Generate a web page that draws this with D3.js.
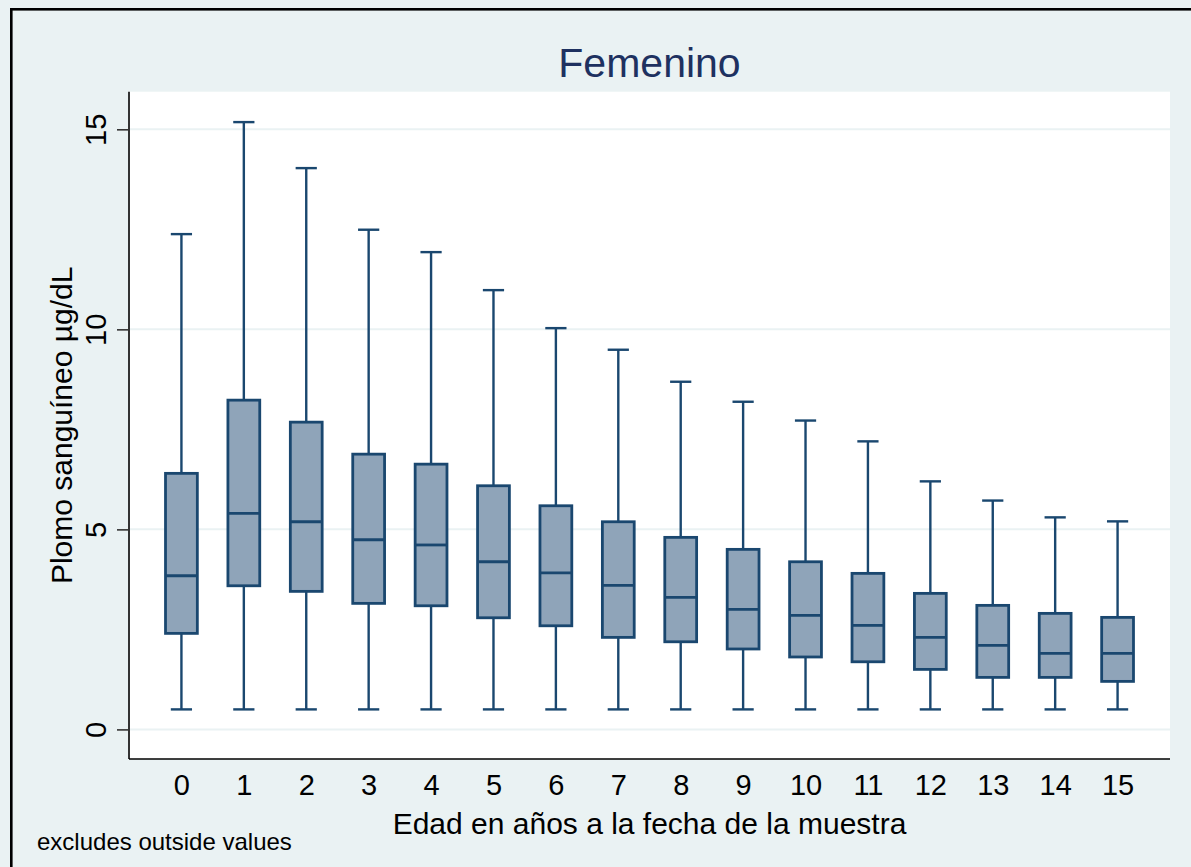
<!DOCTYPE html>
<html>
<head>
<meta charset="utf-8">
<script src="https://cdn.jsdelivr.net/npm/d3@7"></script>
<style>
  body { margin: 0; background: #eaf2f3; }
  svg { display: block; font-family: "Liberation Sans", Arial, sans-serif; }
</style>
</head>
<body>
<svg id="chart"></svg>
<script>
// --------------------
//  data
// --------------------
const ages = ["0","1","2","3","4","5","6","7","8","9","10","11","12","13","14","15"];
const lowerWhisker = [0.5,0.5,0.5,0.5,0.5,0.5,0.5,0.5,0.5,0.5,0.5,0.5,0.5,0.5,0.5,0.5];
const q1 = [2.40,3.59,3.45,3.15,3.09,2.79,2.59,2.30,2.19,2.01,1.81,1.69,1.50,1.30,1.30,1.20];
const median = [3.84,5.40,5.19,4.74,4.61,4.19,3.91,3.60,3.30,3.00,2.85,2.60,2.30,2.10,1.90,1.90];
const q3 = [6.40,8.23,7.68,6.88,6.63,6.09,5.59,5.19,4.80,4.50,4.19,3.90,3.40,3.10,2.90,2.80];
const upperWhisker = [12.38,15.18,14.03,12.49,11.93,10.98,10.03,9.49,8.69,8.19,7.72,7.20,6.20,5.72,5.30,5.20];
const yTicks = [0, 5, 10, 15];

// --------------------
//  settings
// --------------------
const width = 1191;
const height = 867;
const plot = {left: 129, right: 1170, top: 91.7, bottom: 759};
const navy = "#1a476f";
const boxFill = "#8fa4b9";
const bg = "#eaf2f3";

const svg = d3.select("#chart")
    .attr("width", width)
    .attr("height", height);

// background + outer frame (cut off at right/bottom like the reference)
svg.append("rect")
    .attr("width", width).attr("height", height)
    .attr("fill", bg);
svg.append("rect")
    .attr("x", 11.3).attr("y", 9.3)
    .attr("width", width + 20).attr("height", height + 20)
    .attr("fill", "none")
    .attr("stroke", "#000")
    .attr("stroke-width", 2.6);

// plot region
svg.append("rect")
    .attr("x", plot.left).attr("y", plot.top)
    .attr("width", plot.right - plot.left)
    .attr("height", plot.bottom - plot.top)
    .attr("fill", "#fff");

const x = d3.scalePoint()
    .domain(ages)
    .range([plot.left, plot.right])
    .padding(0.84);

const y = d3.scaleLinear()
    .domain([-0.74, 15.94])
    .range([plot.bottom, plot.top]);

const step = x.step();
const boxW = step * 0.51;
const capW = step * 0.34;

// gridlines
svg.append("g")
    .selectAll("line")
    .data(yTicks)
    .join("line")
    .attr("x1", plot.left).attr("x2", plot.right)
    .attr("y1", d => y(d)).attr("y2", d => y(d))
    .attr("stroke", bg)
    .attr("stroke-width", 2);

// y axis
const yAxis = svg.append("g")
    .attr("transform", `translate(${plot.left},0)`)
    .call(d3.axisLeft(y).tickValues(yTicks).tickSize(12).tickFormat(d3.format("d")));
yAxis.select(".domain")
    .attr("d", `M0,${plot.top}V${plot.bottom}`)
    .attr("stroke", "#333")
    .attr("stroke-width", 2);
yAxis.selectAll(".tick line").attr("stroke", "#333").attr("stroke-width", 1.6);
yAxis.selectAll(".tick text")
    .attr("x", 0).attr("y", 0).attr("dy", 0)
    .attr("transform", "translate(-23,0) rotate(-90)")
    .attr("text-anchor", "middle")
    .attr("font-size", "29px")
    .attr("font-family", "Liberation Sans, Arial, sans-serif")
    .attr("fill", "#000");

// x axis (category labels, no ticks)
const xAxis = svg.append("g")
    .attr("transform", `translate(0,${plot.bottom})`)
    .call(d3.axisBottom(x).tickSize(0).tickPadding(0));
xAxis.select(".domain")
    .attr("d", `M${plot.left},0H${plot.right}`)
    .attr("stroke", "#000")
    .attr("stroke-width", 1.6);
xAxis.selectAll(".tick text")
    .attr("y", 36).attr("dy", 0)
    .attr("font-size", "29px")
    .attr("font-family", "Liberation Sans, Arial, sans-serif")
    .attr("fill", "#000");

// boxes
const rows = ages.map((a, i) => ({
    age: a, lw: lowerWhisker[i], q1: q1[i], med: median[i], q3: q3[i], uw: upperWhisker[i]
}));

const g = svg.append("g")
    .selectAll("g")
    .data(rows)
    .join("g")
    .attr("transform", d => `translate(${x(d.age)},0)`);

// whiskers
g.append("line")
    .attr("y1", d => y(d.uw)).attr("y2", d => y(d.q3))
    .attr("stroke", navy).attr("stroke-width", 2.4);
g.append("line")
    .attr("y1", d => y(d.q1)).attr("y2", d => y(d.lw))
    .attr("stroke", navy).attr("stroke-width", 2.4);
// caps
g.append("line")
    .attr("x1", -capW / 2).attr("x2", capW / 2)
    .attr("y1", d => y(d.uw)).attr("y2", d => y(d.uw))
    .attr("stroke", navy).attr("stroke-width", 2.4);
g.append("line")
    .attr("x1", -capW / 2).attr("x2", capW / 2)
    .attr("y1", d => y(d.lw)).attr("y2", d => y(d.lw))
    .attr("stroke", navy).attr("stroke-width", 2.4);
// box
g.append("rect")
    .attr("x", -boxW / 2).attr("width", boxW)
    .attr("y", d => y(d.q3))
    .attr("height", d => y(d.q1) - y(d.q3))
    .attr("fill", boxFill)
    .attr("stroke", navy).attr("stroke-width", 2.8);
// median
g.append("line")
    .attr("x1", -boxW / 2).attr("x2", boxW / 2)
    .attr("y1", d => y(d.med)).attr("y2", d => y(d.med))
    .attr("stroke", navy).attr("stroke-width", 2.8);

// texts
const cx = (plot.left + plot.right) / 2;
svg.append("text")
    .attr("x", cx).attr("y", 77)
    .attr("text-anchor", "middle")
    .attr("font-size", "41px")
    .attr("fill", "#1e3160")
    .text("Femenino");

svg.append("text")
    .attr("x", cx).attr("y", 834)
    .attr("text-anchor", "middle")
    .attr("font-size", "30px")
    .attr("fill", "#000")
    .text("Edad en años a la fecha de la muestra");

svg.append("text")
    .attr("transform", `translate(72,${(plot.top + plot.bottom) / 2}) rotate(-90)`)
    .attr("text-anchor", "middle")
    .attr("font-size", "30px")
    .attr("fill", "#000")
    .text("Plomo sanguíneo µg/dL");

svg.append("text")
    .attr("x", 37).attr("y", 850)
    .attr("font-size", "24px")
    .attr("fill", "#000")
    .text("excludes outside values");
</script>
</body>
</html>
